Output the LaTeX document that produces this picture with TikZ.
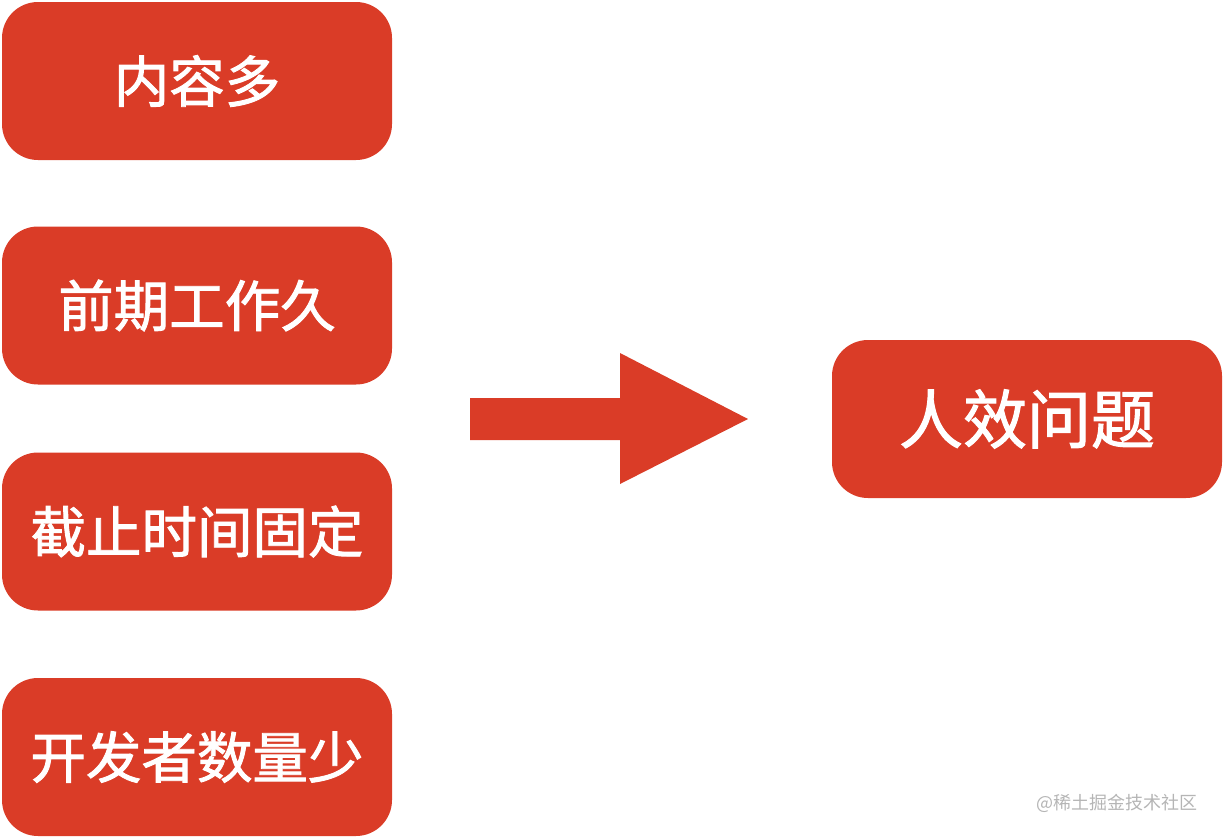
\documentclass[tikz,border=0pt]{standalone}
\usepackage{fontspec}
\newfontfamily\cjk{Noto Sans CJK SC}
\newfontfamily\cjkm{Noto Sans CJK SC}[FakeBold=1.6]
\definecolor{boxred}{HTML}{DA3C27}
\definecolor{wmgray}{HTML}{B5B5B5}
\begin{document}
\begin{tikzpicture}[x=1pt,y=-1pt,
  cause/.style={fill=boxred, rounded corners=36pt, minimum width=390pt, minimum height=158pt, inner sep=0pt, text=white, font=\cjkm\fontsize{55.5}{62}\selectfont},
  result/.style={cause, font=\cjkm\fontsize{64}{72}\selectfont}]
\useasboundingbox (0,0) rectangle (1224,838);
\node[cause] (a) at (197,81) {内容多};
\node[cause] (b) at (197,305.5) {前期工作久};
\node[cause] (c) at (197,531.5) {截止时间固定};
\node[cause] (d) at (197,757) {开发者数量少};
\node[result] (r) at (1027,419) {人效问题};
\fill[boxred] (470,398) -- (620,398) -- (620,353) -- (748,419) -- (620,484) -- (620,440) -- (470,440) -- cycle;
\node[text=wmgray, font=\cjk\fontsize{18}{20}\selectfont, anchor=east] (wm) at (1201,803) {@稀土掘金技术社区};
\end{tikzpicture}
\end{document}
